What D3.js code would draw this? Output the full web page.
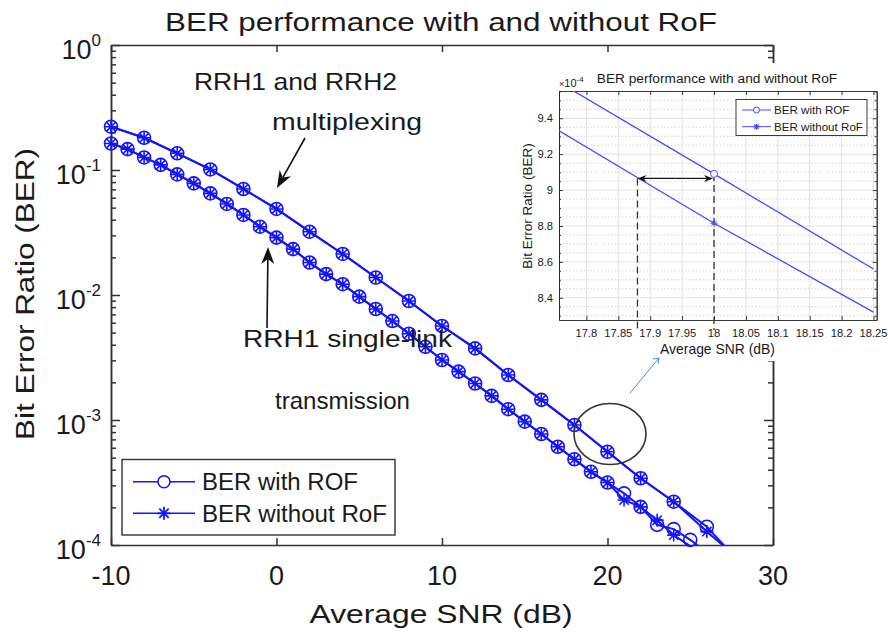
<!DOCTYPE html>
<html>
<head>
<meta charset="utf-8">
<script src="https://cdn.jsdelivr.net/npm/d3@7/dist/d3.min.js"></script>
<style>
  body { margin: 0; background: #fff; }
  text { font-family: Arial, "Liberation Sans", sans-serif; fill: #1a1a1a; }
</style>
</head>
<body>
<div id="chart"></div>
<script>
// ---- main chart data ----
const snrEven = [-10, -8, -6, -4, -2, 0, 2, 4, 6, 8, 10, 12, 14, 16, 18, 20, 22, 24, 26, 28];
const snrAll = [-10, -9, -8, -7, -6, -5, -4, -3, -2, -1, 0, 1, 2, 3, 4, 5, 6, 7, 8, 9, 10,
  11, 12, 13, 14, 15, 16, 17, 18, 19, 20, 21, 22, 23, 24, 25, 26];

// RRH1 and RRH2 multiplexing
const berMultiWithRoF = [0.222, 0.181, 0.136, 0.101, 0.0705, 0.0488, 0.0321, 0.0213, 0.0138,
  0.00895, 0.00565, 0.00374, 0.00229, 0.00145, 0.000912, 0.000557, 0.000342, 0.000222,
  0.000140, 0.0000724];
const berMultiWithoutRoF = [0.222, 0.181, 0.136, 0.101, 0.0705, 0.0488, 0.0321, 0.0213, 0.0138,
  0.00895, 0.00565, 0.00374, 0.00229, 0.00145, 0.000912, 0.000557, 0.000342, 0.000222,
  0.000128, 0.0000759];

// RRH1 single-link transmission
const berSingleWithRoF = [0.163, 0.147, 0.126, 0.110, 0.0923, 0.0782, 0.0650, 0.0535, 0.0437,
  0.0352, 0.0288, 0.0233, 0.0182, 0.0147, 0.0122, 0.00970, 0.00773, 0.00619, 0.00490, 0.00385,
  0.00302, 0.00244, 0.00196, 0.00156, 0.00122, 0.000971, 0.000773, 0.000611, 0.000485,
  0.000385, 0.000316, 0.000259, 0.000202, 0.000145, 0.000134, 0.000110, 0.0000871];
const berSingleWithoutRoF = [0.163, 0.147, 0.126, 0.110, 0.0923, 0.0782, 0.0650, 0.0535, 0.0437,
  0.0352, 0.0288, 0.0233, 0.0182, 0.0147, 0.0122, 0.00970, 0.00773, 0.00619, 0.00490, 0.00385,
  0.00302, 0.00244, 0.00196, 0.00156, 0.00122, 0.000971, 0.000773, 0.000611, 0.000485,
  0.000385, 0.000316, 0.000229, 0.000202, 0.000158, 0.000120, 0.0000980, 0.0000794];

const xTicks = [-10, 0, 10, 20, 30];
const yTicks = [1e-4, 1e-3, 1e-2, 1e-1, 1];
const legendNames = ['BER with ROF', 'BER without RoF'];

// ---- inset (zoom around 18 dB), BER in units of 1e-4 ----
const insetSnr = [17.75, 18, 18.25];
const insetWithRoF = [9.615, 9.09, 8.56];
const insetWithoutRoF = [9.345, 8.815, 8.32];
const insetXTicks = [17.8, 17.85, 17.9, 17.95, 18, 18.05, 18.1, 18.15, 18.2, 18.25];
const insetYTicks = [8.4, 8.6, 8.8, 9, 9.2, 9.4];
const gapStart = 17.88;   // SNR where the lower curve reaches the same BER
const gapBer = 9.065;

const blue = '#1414ff';
const axisColor = '#333333';

const svg = d3.select('#chart').append('svg')
  .attr('width', 888)
  .attr('height', 637);

// marker paths
const starPath = (r) => {
  const k = r * 0.72;
  return `M${-r},0H${r}M0,${-r}V${r}M${-k},${-k}L${k},${k}M${-k},${k}L${k},${-k}`;
};

// filled arrow drawn from (x1,y1) to tip (x2,y2)
const arrow = (g, x1, y1, x2, y2, color, len, wid, width) => {
  const a = Math.atan2(y2 - y1, x2 - x1);
  const bx = x2 - len * Math.cos(a), by = y2 - len * Math.sin(a);
  const nx = Math.sin(a) * wid / 2, ny = -Math.cos(a) * wid / 2;
  const mx = x2 - len * 0.7 * Math.cos(a), my = y2 - len * 0.7 * Math.sin(a);
  g.append('line')
    .attr('x1', x1).attr('y1', y1).attr('x2', mx).attr('y2', my)
    .attr('stroke', color).attr('stroke-width', width);
  g.append('path')
    .attr('d', `M${x2},${y2}L${bx + nx},${by + ny}L${mx},${my}L${bx - nx},${by - ny}Z`)
    .attr('fill', color);
};

// ================= main axes =================
const m = { l: 111, r: 773, t: 45, b: 545 };
const x = d3.scaleLinear().domain([-10, 30]).range([m.l, m.r]);
const y = d3.scaleLog().domain([1e-4, 1]).range([m.b, m.t]);

const minorTicks = [];
yTicks.slice(0, -1).forEach(d => d3.range(2, 10).forEach(k => minorTicks.push(d * k)));

const styleAxis = (g) => {
  g.selectAll('path, line').attr('stroke', axisColor).attr('stroke-width', 1.5);
  g.selectAll('text').remove();
};

svg.append('g').attr('transform', `translate(0,${m.b})`)
  .call(d3.axisBottom(x).tickValues(xTicks).tickSizeInner(-7).tickSizeOuter(0)).call(styleAxis);
svg.append('g').attr('transform', `translate(0,${m.t})`)
  .call(d3.axisTop(x).tickValues(xTicks).tickSizeInner(-7).tickSizeOuter(0)).call(styleAxis);
svg.append('g').attr('transform', `translate(${m.l},0)`)
  .call(d3.axisLeft(y).tickValues(yTicks).tickSizeInner(-9).tickSizeOuter(0)).call(styleAxis);
svg.append('g').attr('transform', `translate(${m.l},0)`)
  .call(d3.axisLeft(y).tickValues(minorTicks).tickSizeInner(-5).tickSizeOuter(0)).call(styleAxis);
svg.append('g').attr('transform', `translate(${m.r},0)`)
  .call(d3.axisRight(y).tickValues(yTicks).tickSizeInner(-9).tickSizeOuter(0)).call(styleAxis);
svg.append('g').attr('transform', `translate(${m.r},0)`)
  .call(d3.axisRight(y).tickValues(minorTicks).tickSizeInner(-5).tickSizeOuter(0)).call(styleAxis);

// tick labels
svg.append('g').selectAll('text')
  .data(xTicks)
  .join('text')
  .attr('x', d => x(d))
  .attr('y', 585)
  .attr('text-anchor', 'middle')
  .attr('font-size', 27)
  .text(d => d);

const yl = svg.append('g').selectAll('text')
  .data(yTicks)
  .join('text')
  .attr('x', 101)
  .attr('y', d => y(d) + 14)
  .attr('text-anchor', 'end')
  .attr('font-size', 27);
yl.append('tspan').text('10');
yl.append('tspan').attr('dy', -13).attr('font-size', 17).text(d => Math.round(Math.log10(d)));

// titles
svg.append('text')
  .attr('x', 441).attr('y', 31)
  .attr('text-anchor', 'middle')
  .attr('font-size', 25.5)
  .attr('textLength', 552).attr('lengthAdjust', 'spacingAndGlyphs')
  .text('BER performance with and without RoF');

svg.append('text')
  .attr('x', 441).attr('y', 623)
  .attr('text-anchor', 'middle')
  .attr('font-size', 25.5)
  .attr('textLength', 263).attr('lengthAdjust', 'spacingAndGlyphs')
  .text('Average SNR (dB)');

svg.append('text')
  .attr('transform', 'translate(34,294) rotate(-90)')
  .attr('text-anchor', 'middle')
  .attr('font-size', 25.5)
  .attr('textLength', 292).attr('lengthAdjust', 'spacingAndGlyphs')
  .text('Bit Error Ratio (BER)');

// curves
svg.append('clipPath').attr('id', 'mainClip')
  .append('rect')
  .attr('x', m.l).attr('y', m.t)
  .attr('width', m.r - m.l).attr('height', m.b - m.t);

const series = [
  { snr: snrEven, ber: berMultiWithRoF, marker: 'o' },
  { snr: snrEven, ber: berMultiWithoutRoF, marker: '*' },
  { snr: snrAll, ber: berSingleWithRoF, marker: 'o' },
  { snr: snrAll, ber: berSingleWithoutRoF, marker: '*' }
];

const line = d3.line().x(d => x(d[0])).y(d => y(d[1]));
const curves = svg.append('g');

series.forEach(s => {
  const pts = s.snr.map((v, i) => [v, s.ber[i]]);
  curves.append('path')
    .datum(pts)
    .attr('clip-path', 'url(#mainClip)')
    .attr('fill', 'none')
    .attr('stroke', blue)
    .attr('stroke-width', 2)
    .attr('d', line);
});

series.forEach(s => {
  const pts = s.snr.map((v, i) => [v, s.ber[i]]).filter(d => d[1] >= 1e-4);
  const g = curves.append('g');
  if (s.marker === 'o') {
    g.selectAll('circle').data(pts).join('circle')
      .attr('cx', d => x(d[0])).attr('cy', d => y(d[1]))
      .attr('r', 6.5)
      .attr('fill', 'none').attr('stroke', blue).attr('stroke-width', 1.6);
  } else {
    g.selectAll('path').data(pts).join('path')
      .attr('transform', d => `translate(${x(d[0])},${y(d[1])})`)
      .attr('d', starPath(6.5))
      .attr('fill', 'none').attr('stroke', blue).attr('stroke-width', 1.6);
  }
});

// annotations
const notes = svg.append('g');
notes.append('text').attr('x', 194).attr('y', 90).attr('font-size', 24)
  .attr('textLength', 203).attr('lengthAdjust', 'spacingAndGlyphs').text('RRH1 and RRH2');
notes.append('text').attr('x', 272).attr('y', 130).attr('font-size', 24)
  .attr('textLength', 150).attr('lengthAdjust', 'spacingAndGlyphs').text('multiplexing');
notes.append('text').attr('x', 243).attr('y', 347).attr('font-size', 24)
  .attr('textLength', 209).attr('lengthAdjust', 'spacingAndGlyphs').text('RRH1 single-link');
notes.append('text').attr('x', 275).attr('y', 409).attr('font-size', 24)
  .attr('textLength', 135).attr('lengthAdjust', 'spacingAndGlyphs').text('transmission');

arrow(notes, 305, 138, 277, 188, '#111', 17, 13, 1.6);
arrow(notes, 267, 328, 268, 247, '#111', 17, 13, 1.6);

notes.append('ellipse')
  .attr('cx', 610).attr('cy', 434).attr('rx', 36).attr('ry', 30.5)
  .attr('fill', 'none').attr('stroke', axisColor).attr('stroke-width', 1.6);

// legend
const leg = svg.append('g');
leg.append('rect')
  .attr('x', 122).attr('y', 459.5).attr('width', 273).attr('height', 75.5)
  .attr('fill', '#fff').attr('stroke', axisColor).attr('stroke-width', 1.4);
legendNames.forEach((name, i) => {
  const ly = 481.7 + i * 31.6;
  leg.append('line').attr('x1', 133).attr('x2', 195).attr('y1', ly).attr('y2', ly)
    .attr('stroke', blue).attr('stroke-width', 1.6);
  if (i === 0) {
    leg.append('circle').attr('cx', 164).attr('cy', ly).attr('r', 6)
      .attr('fill', '#fff').attr('stroke', blue).attr('stroke-width', 1.6);
  } else {
    leg.append('path').attr('transform', `translate(164,${ly})`).attr('d', starPath(6.5))
      .attr('fill', 'none').attr('stroke', blue).attr('stroke-width', 1.8);
  }
  leg.append('text').attr('x', 202).attr('y', ly + 8.5).attr('font-size', 23)
    .attr('textLength', i === 0 ? 156 : 185).attr('lengthAdjust', 'spacingAndGlyphs')
    .text(name);
});

// ================= inset =================
const inset = svg.append('g');
inset.append('rect')
  .attr('x', 512).attr('y', 63).attr('width', 376).attr('height', 298)
  .attr('fill', '#fff');

const im = { l: 559, r: 876.7, t: 91, b: 320 };
const xi = d3.scaleLinear().domain([17.757, 18.255]).range([im.l, im.r]);
const yi = d3.scaleLinear().domain([8.276, 9.552]).range([im.b, im.t]);

const minorY = yi.ticks(26).filter(v => !insetYTicks.some(t => Math.abs(t - v) < 1e-6));

// grid
inset.append('g').selectAll('line').data(minorY).join('line')
  .attr('x1', im.l).attr('x2', im.r).attr('y1', d => yi(d)).attr('y2', d => yi(d))
  .attr('stroke', '#c8c8c8').attr('stroke-width', 0.8).attr('stroke-dasharray', '1.5,2');
inset.append('g').selectAll('line').data(insetYTicks).join('line')
  .attr('x1', im.l).attr('x2', im.r).attr('y1', d => yi(d)).attr('y2', d => yi(d))
  .attr('stroke', '#e2e2e2').attr('stroke-width', 1);
inset.append('g').selectAll('line').data(insetXTicks).join('line')
  .attr('x1', d => xi(d)).attr('x2', d => xi(d)).attr('y1', im.t).attr('y2', im.b)
  .attr('stroke', '#e2e2e2').attr('stroke-width', 1);

// frame + ticks
const styleInset = (g) => {
  g.selectAll('path, line').attr('stroke', '#262626').attr('stroke-width', 0.9);
  g.selectAll('text').remove();
};
inset.append('g').attr('transform', `translate(0,${im.b})`)
  .call(d3.axisBottom(xi).tickValues(insetXTicks).tickSizeInner(-4).tickSizeOuter(0)).call(styleInset);
inset.append('g').attr('transform', `translate(0,${im.t})`)
  .call(d3.axisTop(xi).tickValues(insetXTicks).tickSizeInner(-4).tickSizeOuter(0)).call(styleInset);
inset.append('g').attr('transform', `translate(${im.l},0)`)
  .call(d3.axisLeft(yi).tickValues(insetYTicks).tickSizeInner(-4).tickSizeOuter(0)).call(styleInset);
inset.append('g').attr('transform', `translate(${im.r},0)`)
  .call(d3.axisRight(yi).tickValues(insetYTicks).tickSizeInner(-4).tickSizeOuter(0)).call(styleInset);
inset.append('g').attr('transform', `translate(${im.l},0)`)
  .call(d3.axisLeft(yi).tickValues(minorY).tickSizeInner(-2).tickSizeOuter(0)).call(styleInset);
inset.append('g').attr('transform', `translate(${im.r},0)`)
  .call(d3.axisRight(yi).tickValues(minorY).tickSizeInner(-2).tickSizeOuter(0)).call(styleInset);

inset.append('g').selectAll('text').data(insetXTicks).join('text')
  .attr('x', d => xi(d)).attr('y', 337)
  .attr('text-anchor', 'middle').attr('font-size', 11.2).attr('fill', '#262626')
  .text(d => d);
inset.append('g').selectAll('text').data(insetYTicks).join('text')
  .attr('x', 553).attr('y', d => yi(d) + 4)
  .attr('text-anchor', 'end').attr('font-size', 11.2).attr('fill', '#262626')
  .text(d => d);

const expo = inset.append('text').attr('x', 559).attr('y', 87).attr('font-size', 11).attr('fill', '#555');
expo.append('tspan').attr('font-size', 9).text('\u00d7');
expo.append('tspan').text('10');
expo.append('tspan').attr('dy', -5).attr('font-size', 8).text('-4');

inset.append('text').attr('x', 717).attr('y', 83).attr('text-anchor', 'middle')
  .attr('font-size', 13.7).text('BER performance with and without RoF');
inset.append('text').attr('x', 717.5).attr('y', 354).attr('text-anchor', 'middle')
  .attr('font-size', 13.9).text('Average SNR (dB)');
inset.append('text').attr('transform', 'translate(532,206) rotate(-90)')
  .attr('text-anchor', 'middle').attr('font-size', 13.5).text('Bit Error Ratio (BER)');

// inset curves
inset.append('clipPath').attr('id', 'insetClip')
  .append('rect').attr('x', im.l).attr('y', im.t)
  .attr('width', im.r - im.l).attr('height', im.b - im.t);

const iline = d3.line().x(d => xi(d[0])).y(d => yi(d[1]));
const insetBlue = '#4a4aff';
[insetWithRoF, insetWithoutRoF].forEach(vals => {
  inset.append('path')
    .datum(insetSnr.map((v, i) => [v, vals[i]]))
    .attr('clip-path', 'url(#insetClip)')
    .attr('fill', 'none').attr('stroke', insetBlue).attr('stroke-width', 1.3)
    .attr('d', iline);
});

// dashed guides and gap arrow
inset.append('line')
  .attr('x1', xi(18)).attr('x2', xi(18)).attr('y1', yi(insetWithRoF[1])).attr('y2', 330)
  .attr('stroke', '#333').attr('stroke-width', 1.3).attr('stroke-dasharray', '7,4');
inset.append('line')
  .attr('x1', xi(gapStart)).attr('x2', xi(gapStart)).attr('y1', yi(gapBer)).attr('y2', 330)
  .attr('stroke', '#333').attr('stroke-width', 1.3).attr('stroke-dasharray', '7,4');
const midX = (xi(gapStart) + xi(18)) / 2;
arrow(inset, midX, yi(gapBer), xi(gapStart), yi(gapBer), '#111', 9, 7, 1.2);
arrow(inset, midX, yi(gapBer), xi(18) - 1, yi(gapBer), '#111', 9, 7, 1.2);

// inset markers at 18 dB
inset.append('circle')
  .attr('cx', xi(insetSnr[1])).attr('cy', yi(insetWithRoF[1])).attr('r', 3.5)
  .attr('fill', '#fff').attr('stroke', insetBlue).attr('stroke-width', 1);
inset.append('path')
  .attr('transform', `translate(${xi(insetSnr[1])},${yi(insetWithoutRoF[1])})`)
  .attr('d', starPath(3.5))
  .attr('fill', 'none').attr('stroke', insetBlue).attr('stroke-width', 1);

// inset legend
inset.append('rect')
  .attr('x', 736).attr('y', 99.5).attr('width', 131).attr('height', 36)
  .attr('fill', '#fff').attr('stroke', '#262626').attr('stroke-width', 0.9);
legendNames.forEach((name, i) => {
  const ly = 110 + i * 16.7;
  inset.append('line').attr('x1', 742).attr('x2', 771).attr('y1', ly).attr('y2', ly)
    .attr('stroke', insetBlue).attr('stroke-width', 1);
  if (i === 0) {
    inset.append('circle').attr('cx', 756.5).attr('cy', ly).attr('r', 3)
      .attr('fill', '#fff').attr('stroke', insetBlue).attr('stroke-width', 1);
  } else {
    inset.append('path').attr('transform', `translate(756.5,${ly})`).attr('d', starPath(3))
      .attr('fill', 'none').attr('stroke', insetBlue).attr('stroke-width', 1.2);
  }
  inset.append('text').attr('x', 774).attr('y', ly + 4.2).attr('font-size', 11.6)
    .text(name);
});

// pointer from the circled region to the inset
const ptr = svg.append('g');
ptr.append('line').attr('x1', 630).attr('y1', 393).attr('x2', 659).attr('y2', 358)
  .attr('stroke', '#4f8bd0').attr('stroke-width', 1);
ptr.append('path').attr('d', 'M653,359L659,358L658,364')
  .attr('fill', 'none').attr('stroke', '#4f8bd0').attr('stroke-width', 1);
</script>
</body>
</html>
